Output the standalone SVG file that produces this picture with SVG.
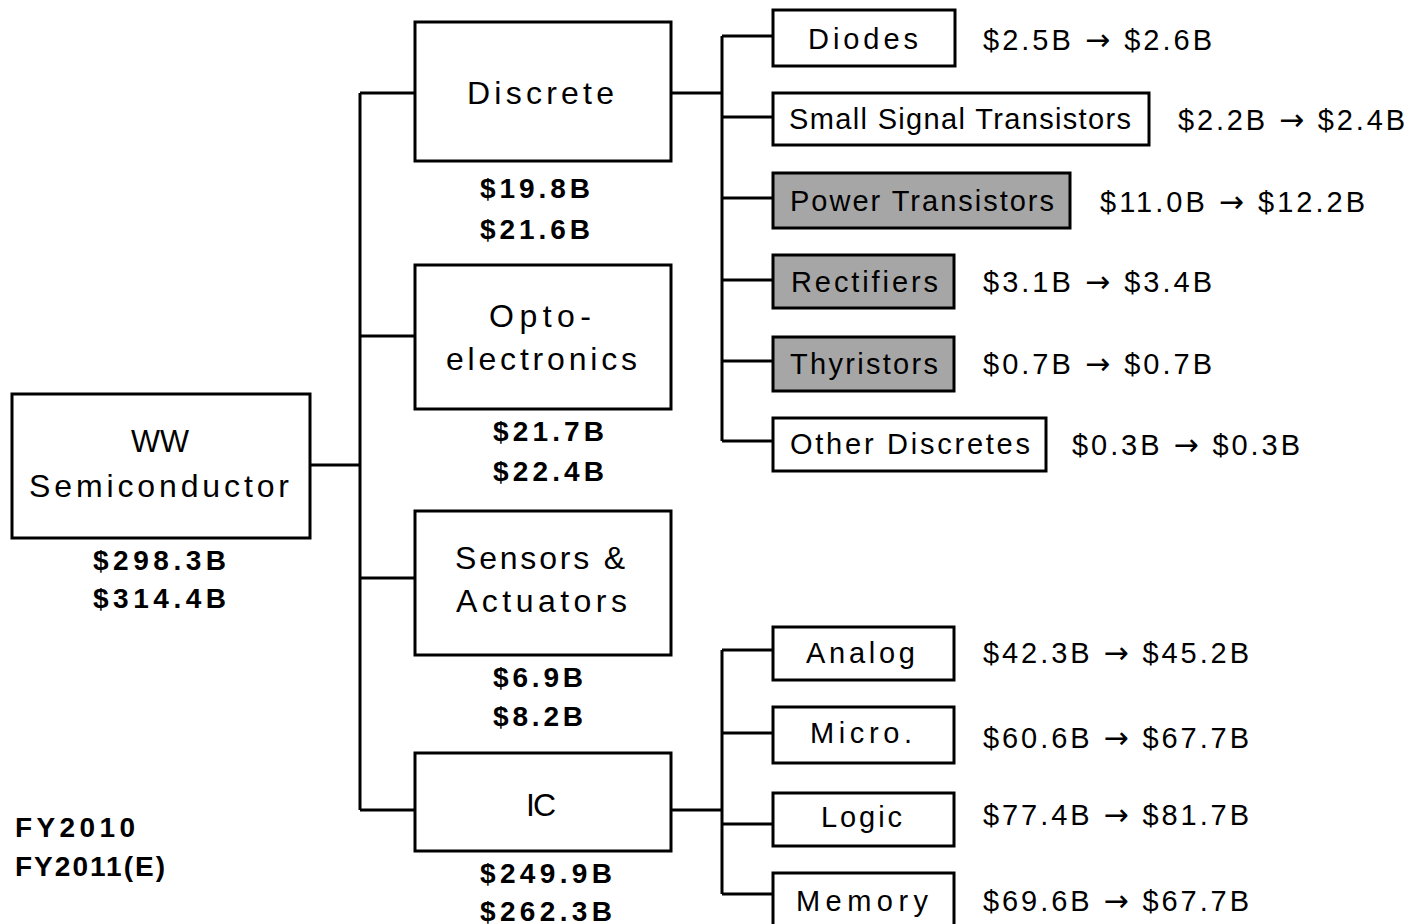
<svg xmlns="http://www.w3.org/2000/svg" width="1412" height="924" viewBox="0 0 1412 924">
<style>
.box{fill:#fff;stroke:#000;stroke-width:3}
.gray{fill:#a6a6a6;stroke:#000;stroke-width:3}
.ln{fill:none;stroke:#000;stroke-width:3}
text{font-family:"Liberation Sans",Arial,sans-serif;fill:#000}
.big{font-size:32px}
.sm{font-size:29px}
.val{font-size:28px;font-weight:bold}
.rv{font-size:29px}
.ar{font-family:"DejaVu Sans",sans-serif;font-size:30px}
</style>
<rect width="1412" height="924" fill="#fff"/>
<g id="connectors">
<path class="ln" d="M310 465H360M360 93V810M360 93H415M360 336H415M360 578H415M360 810H415"/>
<path class="ln" d="M671 93H722M722 36V441M722 36H773M722 117H773M722 198H773M722 280H773M722 361H773M722 441H773"/>
<path class="ln" d="M671 810H722M722 650V894M722 650H773M722 733H773M722 824H773M722 894H773"/>
</g>
<g id="ww">
<rect class="box" x="12" y="394" width="298" height="144"/>
<text class="big" x="131" y="452" textLength="58" lengthAdjust="spacingAndGlyphs">WW</text>
<text class="big" x="29" y="497" textLength="260" lengthAdjust="spacing">Semiconductor</text>
<text class="val" x="93" y="570" textLength="133" lengthAdjust="spacing">$298.3B</text>
<text class="val" x="93" y="608" textLength="133" lengthAdjust="spacing">$314.4B</text>
</g>
<g id="discrete">
<rect class="box" x="415" y="22" width="256" height="139"/>
<text class="big" x="467" y="104" textLength="147" lengthAdjust="spacing">Discrete</text>
<text class="val" x="480" y="198" textLength="110" lengthAdjust="spacing">$19.8B</text>
<text class="val" x="480" y="239" textLength="110" lengthAdjust="spacing">$21.6B</text>
</g>
<g id="opto">
<rect class="box" x="415" y="265" width="256" height="144"/>
<text class="big" x="489" y="327" textLength="102" lengthAdjust="spacing">Opto-</text>
<text class="big" x="446" y="370" textLength="191" lengthAdjust="spacing">electronics</text>
<text class="val" x="493" y="441" textLength="111" lengthAdjust="spacing">$21.7B</text>
<text class="val" x="493" y="481" textLength="111" lengthAdjust="spacing">$22.4B</text>
</g>
<g id="sensors">
<rect class="box" x="415" y="511" width="256" height="144"/>
<text class="big" x="455" y="569" textLength="170" lengthAdjust="spacing">Sensors &amp;</text>
<text class="big" x="456" y="612" textLength="171" lengthAdjust="spacing">Actuators</text>
<text class="val" x="493" y="687" textLength="90" lengthAdjust="spacing">$6.9B</text>
<text class="val" x="493" y="726" textLength="90" lengthAdjust="spacing">$8.2B</text>
</g>
<g id="ic">
<rect class="box" x="415" y="753" width="256" height="98"/>
<text class="big" x="526" y="816" textLength="30" lengthAdjust="spacing">IC</text>
<text class="val" x="480" y="883" textLength="132" lengthAdjust="spacing">$249.9B</text>
<text class="val" x="480" y="921" textLength="132" lengthAdjust="spacing">$262.3B</text>
</g>
<g id="diodes">
<rect class="box" x="773" y="10" width="182" height="56"/>
<text class="sm" x="808" y="49" textLength="110" lengthAdjust="spacing">Diodes</text>
<text class="rv" x="983" y="50" textLength="229" lengthAdjust="spacing">$2.5B <tspan class="ar">→</tspan> $2.6B</text>
</g>
<g id="small-signal">
<rect class="box" x="773" y="93" width="376" height="52"/>
<text class="sm" x="789" y="129" textLength="342" lengthAdjust="spacing">Small Signal Transistors</text>
<text class="rv" x="1178" y="130" textLength="227" lengthAdjust="spacing">$2.2B <tspan class="ar">→</tspan> $2.4B</text>
</g>
<g id="power">
<rect class="gray" x="773" y="173" width="297" height="55"/>
<text class="sm" x="790" y="211" textLength="264" lengthAdjust="spacing">Power Transistors</text>
<text class="rv" x="1100" y="212" textLength="265" lengthAdjust="spacing">$11.0B <tspan class="ar">→</tspan> $12.2B</text>
</g>
<g id="rectifiers">
<rect class="gray" x="773" y="255" width="181" height="53"/>
<text class="sm" x="791" y="292" textLength="147" lengthAdjust="spacing">Rectifiers</text>
<text class="rv" x="983" y="292" textLength="229" lengthAdjust="spacing">$3.1B <tspan class="ar">→</tspan> $3.4B</text>
</g>
<g id="thyristors">
<rect class="gray" x="773" y="337" width="181" height="54"/>
<text class="sm" x="790" y="374" textLength="148" lengthAdjust="spacing">Thyristors</text>
<text class="rv" x="983" y="374" textLength="229" lengthAdjust="spacing">$0.7B <tspan class="ar">→</tspan> $0.7B</text>
</g>
<g id="other">
<rect class="box" x="773" y="418" width="273" height="53"/>
<text class="sm" x="790" y="454" textLength="240" lengthAdjust="spacing">Other Discretes</text>
<text class="rv" x="1072" y="455" textLength="228" lengthAdjust="spacing">$0.3B <tspan class="ar">→</tspan> $0.3B</text>
</g>
<g id="analog">
<rect class="box" x="773" y="627" width="181" height="53"/>
<text class="sm" x="806" y="663" textLength="109" lengthAdjust="spacing">Analog</text>
<text class="rv" x="983" y="663" textLength="266" lengthAdjust="spacing">$42.3B <tspan class="ar">→</tspan> $45.2B</text>
</g>
<g id="micro">
<rect class="box" x="773" y="707" width="181" height="56"/>
<text class="sm" x="810" y="743" textLength="102" lengthAdjust="spacing">Micro.</text>
<text class="rv" x="983" y="748" textLength="266" lengthAdjust="spacing">$60.6B <tspan class="ar">→</tspan> $67.7B</text>
</g>
<g id="logic">
<rect class="box" x="773" y="793" width="181" height="53"/>
<text class="sm" x="821" y="827" textLength="81" lengthAdjust="spacing">Logic</text>
<text class="rv" x="983" y="825" textLength="266" lengthAdjust="spacing">$77.4B <tspan class="ar">→</tspan> $81.7B</text>
</g>
<g id="memory">
<rect class="box" x="773" y="873" width="181" height="60"/>
<text class="sm" x="796" y="911" textLength="132" lengthAdjust="spacing">Memory</text>
<text class="rv" x="983" y="911" textLength="266" lengthAdjust="spacing">$69.6B <tspan class="ar">→</tspan> $67.7B</text>
</g>
<g id="legend">
<text class="val" x="15" y="837" textLength="120" lengthAdjust="spacing">FY2010</text>
<text class="val" x="15" y="876" textLength="150" lengthAdjust="spacing">FY2011(E)</text>
</g>
</svg>
